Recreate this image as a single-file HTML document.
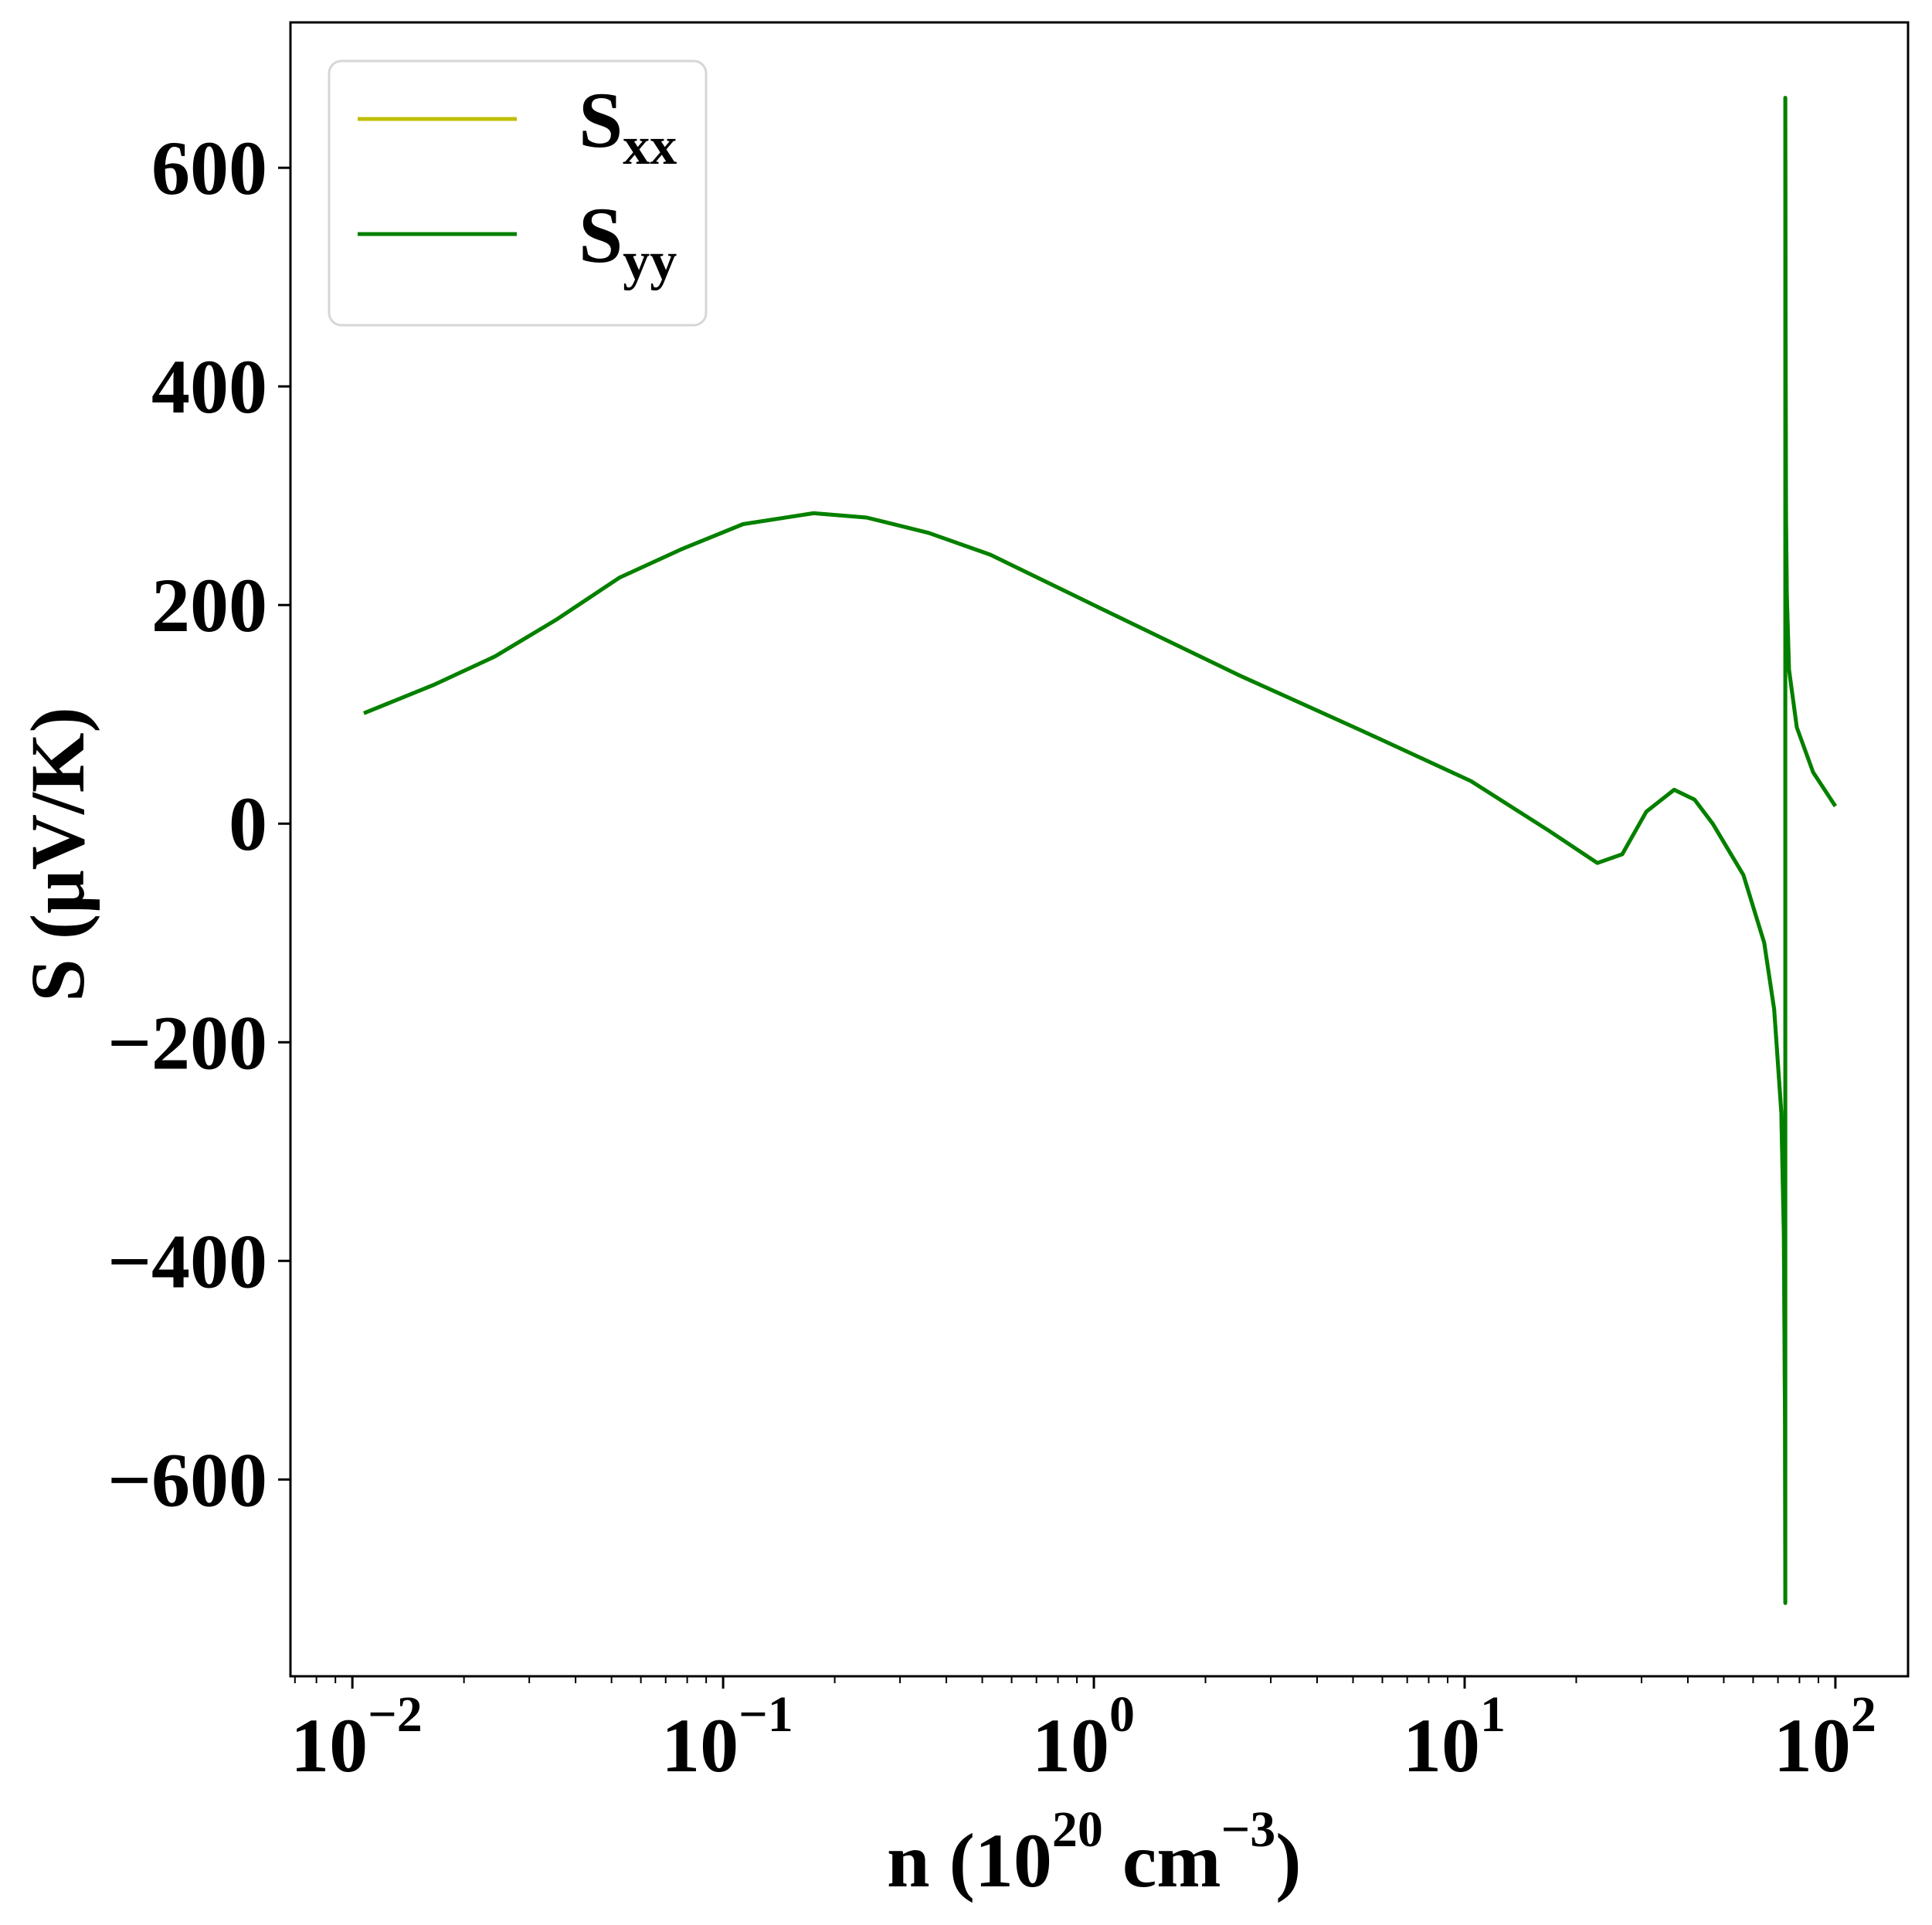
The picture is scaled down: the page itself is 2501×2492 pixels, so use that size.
<!DOCTYPE html>
<html><head><meta charset="utf-8"><style>
html,body{margin:0;padding:0;background:#fff}
svg{display:block;font-family:"Liberation Serif",serif;font-weight:bold}
</style></head><body>
<svg id="chart" width="2501" height="2492" viewBox="0 0 2501 2492" xmlns="http://www.w3.org/2000/svg">
<rect width="2501" height="2492" fill="#fff"/>
<g id="plot"></g>
<g id="xticks"></g>
<g id="yticks"></g>
<rect x="376" y="29" width="2094" height="2141" fill="none" stroke="#000" stroke-width="3"/>
<text x="1148" y="2442" font-size="100">n (10<tspan font-size="66" dy="-52">20</tspan><tspan dy="52"> cm</tspan><tspan font-size="66" dy="-52">−3</tspan><tspan dy="52">)</tspan></text>
<text transform="translate(108,1106) rotate(-90)" text-anchor="middle" font-size="100">S (μV/K)</text>
<g>
<rect x="426" y="79" width="488" height="342" rx="16" fill="#fff" stroke="#d6d6d6" stroke-width="3"/>
<line x1="463" y1="154" x2="669" y2="154" stroke="#bfbf00" stroke-width="5"/>
<text x="749" y="190" font-size="103">S<tspan font-size="70" dy="22">xx</tspan></text>
<line x1="463" y1="303" x2="669" y2="303" stroke="#008000" stroke-width="5"/>
<text x="749" y="339" font-size="103">S<tspan font-size="70" dy="22">yy</tspan></text>
</g>
</svg>
<script>
const logN = [-1.969,-1.78,-1.615,-1.448,-1.28,-1.113,-0.946,-0.756,-0.613,-0.446,-0.279,0.012,0.39,0.723,1.017,1.225,1.358,1.425,1.49,1.565,1.62,1.669,1.752,1.808,1.835,1.854,1.861,1.864,1.865,1.865,1.866,1.867,1.869,1.875,1.896,1.94,2.0];
const syy = [101,127,153,187,225,251,274,284,280,266,246,198,136,85,39,-6,-36,-28,11,31,22,0,-47,-109,-170,-264,-377,-550,-713,664,412,277,209,141,88,47,16];
const sxx = syy.slice();
const yTickVals = [-600,-400,-200,0,200,400,600];
const yTickLabels = ["−600","−400","−200","0","200","400","600"];
const xDecades = [-2,-1,0,1,2];
const xTickLabels = ["−2","−1","0","1","2"];

const X0=376,X1=2470,Y0=29,Y1=2170, LMIN=-2.167,LMAX=2.196, VMIN=-780,VMAX=733;
function xs(l){return X0+(l-LMIN)/(LMAX-LMIN)*(X1-X0);}
function ys(v){return Y1-(v-VMIN)/(VMAX-VMIN)*(Y1-Y0);}
const NS="http://www.w3.org/2000/svg";
function mk(tag,attrs,parent){const e=document.createElementNS(NS,tag);for(const k in attrs)e.setAttribute(k,attrs[k]);parent.appendChild(e);return e;}
const plot=document.getElementById('plot');
function path(vals,color,name){
  const d=vals.map((v,i)=>(i?'L':'M')+xs(logN[i]).toFixed(1)+','+ys(v).toFixed(1)).join(' ');
  const p=mk('path',{d:d,fill:'none',stroke:color,'stroke-width':5,'stroke-linejoin':'round'},plot);
  
  
}
path(sxx,'#bfbf00','series-sxx');
path(syy,'#008000','series-syy');
const yt=document.getElementById('yticks');
yTickVals.forEach((v,i)=>{
  const y=ys(v);
  const l=mk('line',{x1:X0-16,x2:X0,y1:y,y2:y,stroke:'#000','stroke-width':3},yt);
  
  
  const t=mk('text',{x:X0-30,y:y+34,'text-anchor':'end','font-size':100},yt);
  
  
  t.textContent=yTickLabels[i];
});
const xt=document.getElementById('xticks');
for(let d=-3;d<=2;d++){for(let m=1;m<10;m++){const l=d+Math.log10(m);if(l<LMIN||l>LMAX)continue;
  const x=xs(l);const major=m===1;
  const tk=mk('line',{x1:x,x2:x,y1:Y1,y2:Y1+(major?16:9),stroke:'#000','stroke-width':major?3:2},xt);
  
  
}}
xDecades.forEach((d,i)=>{
  const x=xs(d);
  const t=mk('text',{x:x-80,y:2293,'font-size':100},xt);
  
  
  t.textContent='10';
  const s=mk('tspan',{'font-size':66,dy:-52},t);
  s.textContent=xTickLabels[i];
});
</script>
</body></html>
